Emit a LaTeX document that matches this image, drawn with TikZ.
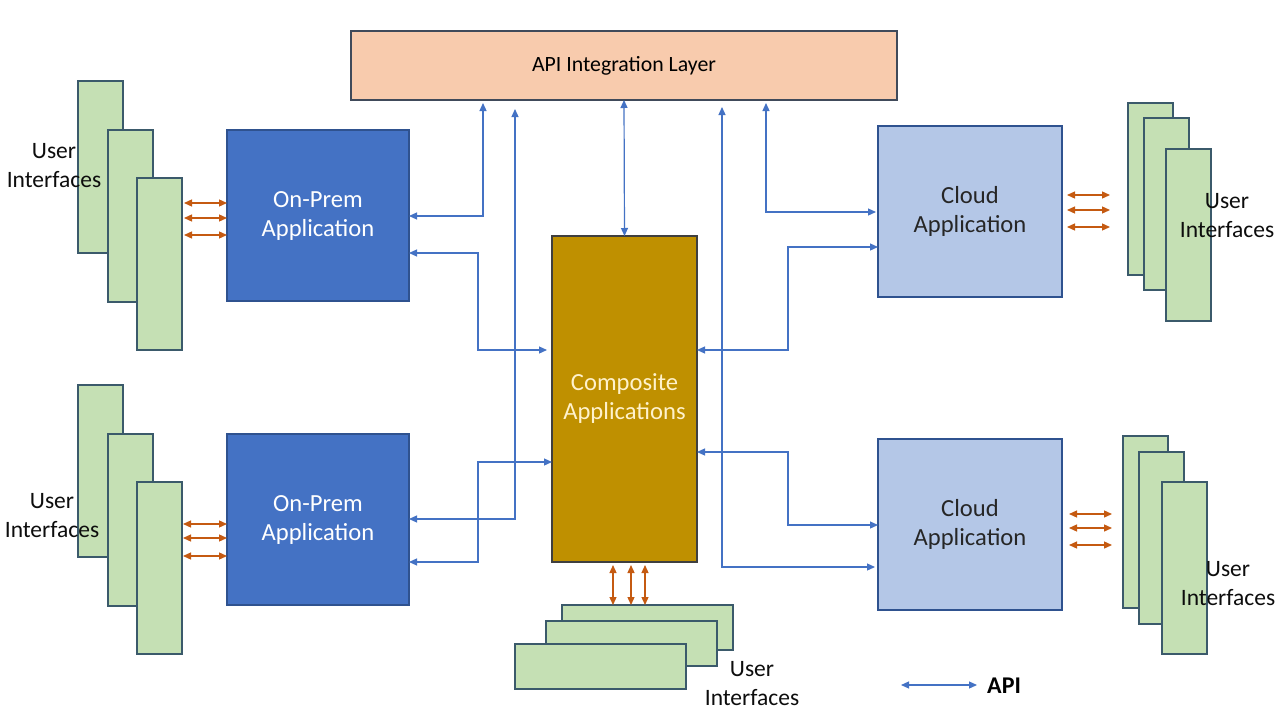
\documentclass[tikz,border=0pt]{standalone}
\usepackage{fontspec}
\setmainfont{Carlito}
\usetikzlibrary{arrows.meta,calc}
\definecolor{apifill}{HTML}{F8CBAD}
\definecolor{opfill}{HTML}{4472C4}
\definecolor{opline}{HTML}{2F528F}
\definecolor{compfill}{HTML}{BF9000}
\definecolor{compline}{HTML}{3F3F3F}
\definecolor{cloudfill}{HTML}{B4C7E7}
\definecolor{uifill}{HTML}{C5E0B4}
\definecolor{uiline}{HTML}{3B5A6B}
\definecolor{apiline}{HTML}{4472C4}
\definecolor{uiarrow}{HTML}{C55A11}
\definecolor{boxline}{HTML}{404A5A}
\definecolor{comptext}{HTML}{FFF2CC}
\tikzset{
  box/.style={draw, line width=1.2pt, inner sep=0pt, outer sep=0pt, anchor=north west, align=center, font=\fontsize{24.6}{29}\selectfont},
  apibox/.style={box, fill=apifill, draw=boxline, text=black, font=\fontsize{21.8}{26}\selectfont},
  opbox/.style={box, fill=opfill, draw=opline, text=white, minimum width=182pt, minimum height=171pt},
  compbox/.style={box, fill=compfill, draw=compline, text=comptext},
  cloudbox/.style={box, fill=cloudfill, draw=opline, text=black!85, minimum width=184pt, minimum height=171pt},
  uibox/.style={draw=uiline, fill=uifill, line width=1.2pt, inner sep=0pt, outer sep=0pt, anchor=north west},
  uiv/.style={uibox, minimum width=45pt, minimum height=172pt},
  uih/.style={uibox, minimum width=171pt, minimum height=45pt},
  uilabel/.style={align=center, text=black!95, font=\fontsize{23.5}{29}\selectfont, inner sep=0pt},
  apiarrow/.style={draw=apiline, line width=1.2pt, {Triangle[length=8pt,width=7pt]}-{Triangle[length=8pt,width=7pt]}},
  uiarrowst/.style={draw=uiarrow, line width=1.3pt, {Triangle[length=8pt,width=7pt]}-{Triangle[length=8pt,width=7pt]}},
}
\begin{document}
\begin{tikzpicture}[x=1pt,y=-1pt]
\useasboundingbox (0,0) rectangle (1280,720);
\fill[white] (0,0) rectangle (1280,720);

% API integration layer
\node[apibox, minimum width=546pt, minimum height=69pt] (api) at (351,31) {API Integration Layer};

% On-Prem applications
\node[opbox] (op1) at (227,130) {On-Prem\\Application};
\node[opbox] (op2) at (227,434) {On-Prem\\Application};

% Composite
\node[compbox, minimum width=145pt, minimum height=326pt] (comp) at (552,236) {Composite\\Applications};

% Cloud applications
\node[cloudbox] (cl1) at (878,126) {Cloud\\Application};
\node[cloudbox] (cl2) at (878,439) {Cloud\\Application};

% UI stacks - top left
\node[uiv] (ua1) at (78,81) {};
\node[uiv] (ua2) at (108,130) {};
\node[uiv] (ua3) at (137,178) {};
\node[uilabel] (ula) at (54,166) {User\\Interfaces};

% UI stacks - bottom left
\node[uiv] (ub1) at (78,385) {};
\node[uiv] (ub2) at (108,434) {};
\node[uiv] (ub3) at (137,482) {};
\node[uilabel] (ulb) at (52,516) {User\\Interfaces};

% UI stacks - top right
\node[uiv] (uc1) at (1128,103) {};
\node[uiv] (uc2) at (1144,118) {};
\node[uiv] (uc3) at (1166,149) {};
\node[uilabel] (ulc) at (1227,216) {User\\Interfaces};

% UI stacks - bottom right
\node[uiv] (ud1) at (1123,436) {};
\node[uiv] (ud2) at (1139,452) {};
\node[uiv] (ud3) at (1162,482) {};
\node[uilabel] (uld) at (1228,584) {User\\Interfaces};

% UI stacks - bottom centre
\node[uih] (ue1) at (562,605) {};
\node[uih] (ue2) at (546,621) {};
\node[uih] (ue3) at (515,644) {};
\node[uilabel] (ule) at (752,684) {User\\Interfaces};

% orange UI arrows
\foreach \yy in {203,218,235}{
  \draw[uiarrowst, shorten <=2pt] (ua3.east |- 0,\yy) -- (op1.west |- 0,\yy);
}
\foreach \yy in {524,538,556}{
  \draw[uiarrowst, shorten <=1pt] (ub3.east |- 0,\yy) -- (op2.west |- 0,\yy);
}
\foreach \yy in {195,210,227}{
  \draw[uiarrowst, shorten <=5pt, shorten >=18pt] (cl1.east |- 0,\yy) -- (uc1.west |- 0,\yy);
}
\foreach \yy in {514,528,545}{
  \draw[uiarrowst, shorten <=7pt, shorten >=11pt] (cl2.east |- 0,\yy) -- (ud1.west |- 0,\yy);
}
\foreach \xx in {613,631,645}{
  \draw[uiarrowst, shorten <=3pt] (comp.south -| \xx,0) -- (ue1.north -| \xx,0);
}

% blue API connectors
\draw[apiarrow, shorten >=3pt] (op1.east |- 0,216) -| (483,0 |- api.south);
\draw[apiarrow, shorten >=5pt] (op1.east |- 0,253) -| (478,350) -- (comp.west |- 0,350);
\draw[apiarrow, shorten >=9pt] (op2.east |- 0,519) -| (515,0 |- api.south);
\draw[apiarrow] (op2.east |- 0,562) -| (478,462) -- (comp.west |- 0,462);
\draw[apiarrow] (comp.north) -- (api.south);
\draw[apiarrow, shorten <=2pt, shorten >=3pt] (cl1.west |- 0,212) -| (766,0 |- api.south);
\draw[apiarrow] (comp.east |- 0,350) -| (788,247) -- (cl1.west |- 0,247);
\draw[apiarrow] (comp.east |- 0,452) -| (788,525) -- (cl2.west |- 0,525);
\draw[apiarrow, shorten <=3pt, shorten >=7pt] (cl2.west |- 0,567) -| (722,0 |- api.south);

% legend
\coordinate (lg1) at (901,685);
\coordinate (lg2) at (977,685);
\draw[apiarrow] (lg1) -- (lg2);
\node[anchor=west, inner sep=0pt, font=\fontsize{24}{28}\bfseries\selectfont, text=black] (lgt) at (987,686) {API};
\end{tikzpicture}
\end{document}
